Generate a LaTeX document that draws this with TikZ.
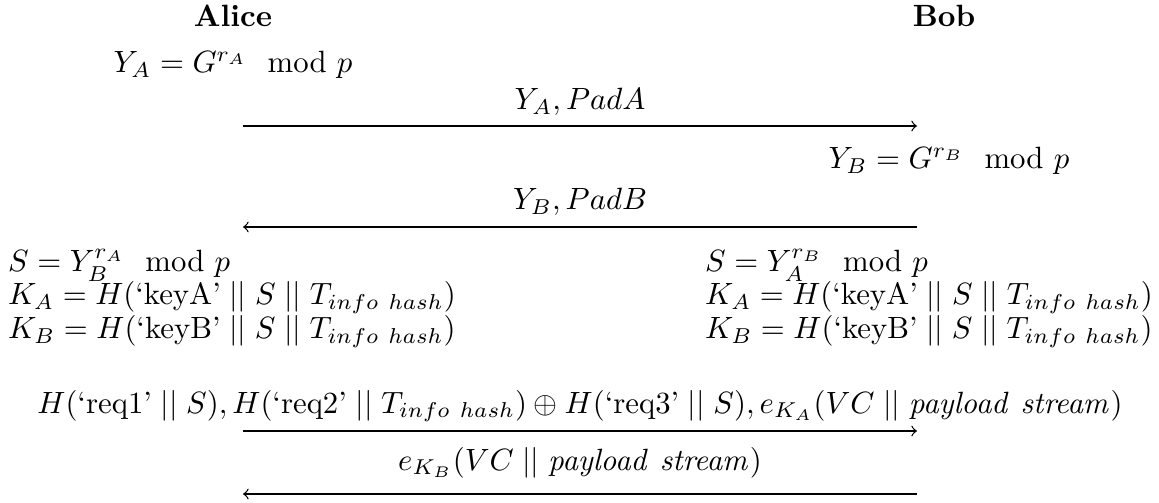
\documentclass[tikz,border=0pt]{standalone}
\usepackage{amsmath}
% concatenation bars, spaced as a relation
\newcommand{\cat}{\mathrel{||}}
\begin{document}
\begin{tikzpicture}[x=0.325pt,y=-0.325pt,
  ctr/.style={inner sep=0pt, anchor=base},
  lft/.style={inner sep=0pt, anchor=base west},
  msg/.style={->, line width=0.4pt}]
\useasboundingbox (0,0) rectangle (1159,503);

% parties
\node[ctr] (alice) at (233,27) {\textbf{Alice}};
\node[ctr] (bob)   at (944,27) {\textbf{Bob}};

% first message
\node[lft] (ya) at (113,73) {$Y_A = G^{r_A} \mod p$};
\coordinate (m1s) at (243,126);
\coordinate (m1e) at (917,126);
\node[ctr] (m1) at (580,110) {$Y_A, PadA$};
\draw[msg] (m1s) -- (m1e);

% second message
\node[lft] (yb) at (828,169) {$Y_B = G^{r_B} \mod p$};
\coordinate (m2s) at (917,227);
\coordinate (m2e) at (243,227);
\node[ctr] (m2) at (580,210) {$Y_B, PadB$};
\draw[msg] (m2s) -- (m2e);

% shared secret and keys
\node[lft] (sa)  at (7.5,272) {$S = Y_B^{r_A} \mod p$};
\node[lft] (kaa) at (7.5,305) {$K_A = H(\text{`keyA'} \cat S \cat T_{info\ hash})$};
\node[lft] (kba) at (7.5,338.5) {$K_B = H(\text{`keyB'} \cat S \cat T_{info\ hash})$};
\node[lft] (sb)  at (704.5,272) {$S = Y_A^{r_B} \mod p$};
\node[lft] (kab) at (704.5,305) {$K_A = H(\text{`keyA'} \cat S \cat T_{info\ hash})$};
\node[lft] (kbb) at (704.5,338.5) {$K_B = H(\text{`keyB'} \cat S \cat T_{info\ hash})$};

% third message
\node[ctr] (m3) at (580,413) {$H(\text{`req1'} \cat S), H(\text{`req2'} \cat T_{info\ hash}) \oplus H(\text{`req3'} \cat S), e_{K_A}(VC \cat \mathit{payload\ stream})$};
\coordinate (m3s) at (243,431);
\coordinate (m3e) at (917,431);
\draw[msg] (m3s) -- (m3e);

% fourth message
\node[ctr] (m4) at (580,470) {$e_{K_B}(VC \cat \mathit{payload\ stream})$};
\coordinate (m4s) at (917,494);
\coordinate (m4e) at (243,494);
\draw[msg] (m4s) -- (m4e);
\end{tikzpicture}
\end{document}
